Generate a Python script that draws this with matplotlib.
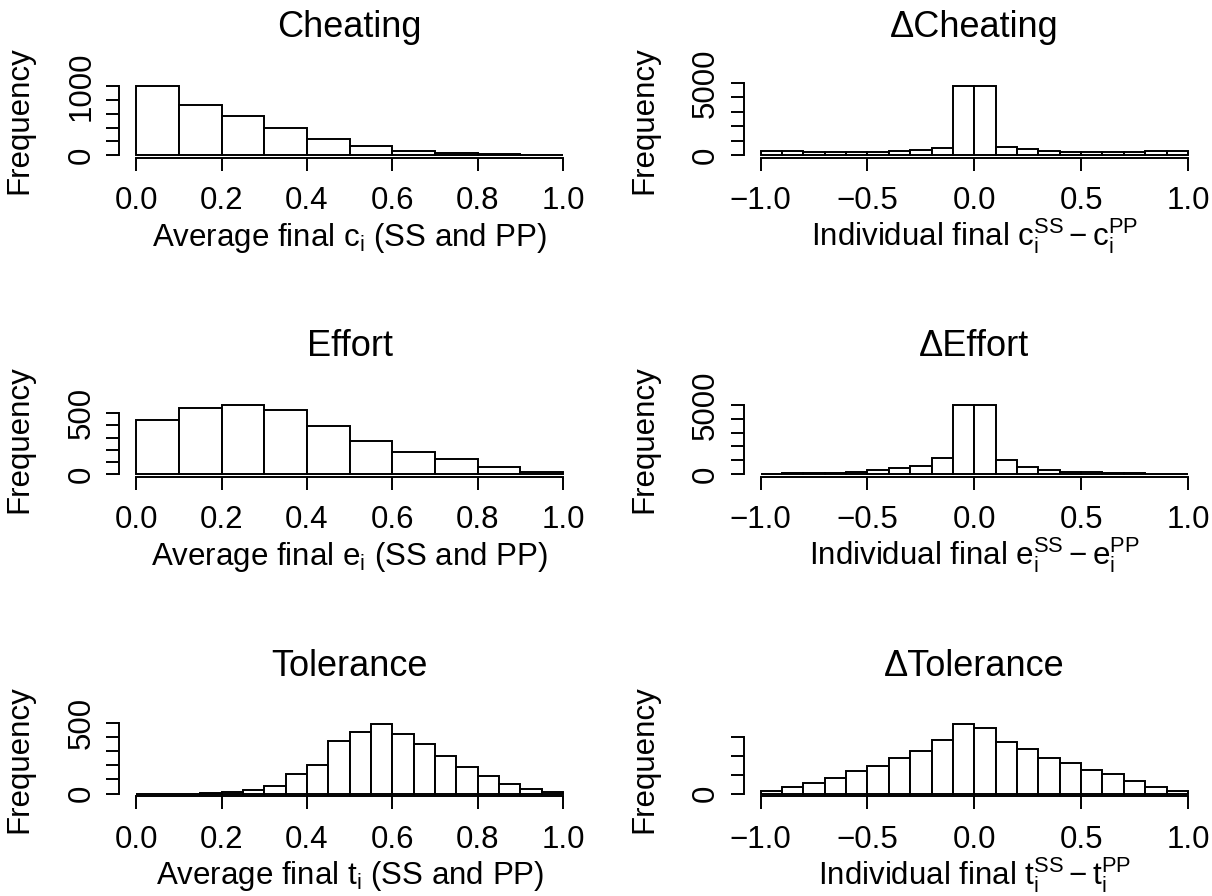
import numpy as np
import matplotlib
matplotlib.use("Agg")
import matplotlib.pyplot as plt

plt.rcParams['font.family'] = ['Liberation Sans', 'DejaVu Sans']
plt.rcParams['mathtext.fontset'] = 'custom'
plt.rcParams['mathtext.rm'] = 'Liberation Sans'
plt.rcParams['mathtext.it'] = 'Liberation Sans:italic'

## histogram data (counts per bin)
avg_edges = [0.0, 0.1, 0.2, 0.3, 0.4, 0.5, 0.6, 0.7, 0.8, 0.9, 1.0]
tol_edges = [0.0, 0.05, 0.1, 0.15, 0.2, 0.25, 0.3, 0.35, 0.4, 0.45, 0.5,
             0.55, 0.6, 0.65, 0.7, 0.75, 0.8, 0.85, 0.9, 0.95, 1.0]
diff_edges = [-1.0, -0.9, -0.8, -0.7, -0.6, -0.5, -0.4, -0.3, -0.2, -0.1, 0.0,
              0.1, 0.2, 0.3, 0.4, 0.5, 0.6, 0.7, 0.8, 0.9, 1.0]

cheat_counts = [1010, 729, 565, 396, 237, 135, 63, 24, 10, 5]
dcheat_counts = [300, 276, 230, 207, 207, 230, 253, 345, 500, 4816,
                 4816, 576, 415, 300, 230, 230, 230, 230, 250, 280]
effort_counts = [446, 541, 571, 527, 397, 274, 185, 120, 60, 19]
deffort_counts = [24, 48, 72, 97, 145, 314, 410, 604, 1160, 5024,
                  5024, 1014, 483, 266, 145, 121, 72, 48, 24, 24]
tol_counts = [0, 0, 0, 5, 12, 23, 53, 140, 205, 372,
              437, 491, 419, 353, 267, 186, 123, 65, 30, 9]
dtol_counts = [61, 175, 289, 421, 596, 746, 956, 1140, 1430, 1851,
               1754, 1368, 1175, 939, 807, 640, 517, 325, 175, 70]

avg_xticks = [0.0, 0.2, 0.4, 0.6, 0.8, 1.0]
avg_xlabels = ['0.0', '0.2', '0.4', '0.6', '0.8', '1.0']
diff_xticks = [-1.0, -0.5, 0.0, 0.5, 1.0]
diff_xlabels = ['\u22121.0', '\u22120.5', '0.0', '0.5', '1.0']

titles = ['Cheating', '\u0394Cheating', 'Effort', '\u0394Effort', 'Tolerance', '\u0394Tolerance']
xlabs = [r'Average final $\mathregular{c_i}$ (SS and PP)',
         r'Individual final $\mathregular{c_i^{SS} - c_i^{PP}}$',
         r'Average final $\mathregular{e_i}$ (SS and PP)',
         r'Individual final $\mathregular{e_i^{SS} - e_i^{PP}}$',
         r'Average final $\mathregular{t_i}$ (SS and PP)',
         r'Individual final $\mathregular{t_i^{SS} - t_i^{PP}}$']

W, H = 1212, 896
fig = plt.figure(figsize=(W / 100, H / 100), dpi=100)

# plot regions in pixels
col_x = [(119.3, 580.0), (743.5, 1205.0)]
row_y = [(82.8, 157.8), (401.8, 476.8), (721.3, 796.3)]

FS = 22.5
LW = 1.4


def add_panel(col, row):
    x0, x1 = col_x[col]
    y0, y1 = row_y[row]
    return fig.add_axes([x0 / W, 1 - y1 / H, (x1 - x0) / W, (y1 - y0) / H])


def draw_hist(ax, edges, counts, xticks, xlabels, yticks, ylabels, title, xlabel):
    edges = np.asarray(edges)
    counts = np.asarray(counts)
    ax.bar(edges[:-1], counts, width=np.diff(edges), align='edge',
           facecolor='white', edgecolor='black', linewidth=LW)
    span = edges[-1] - edges[0]
    ax.set_xlim(edges[0] - 0.04 * span, edges[-1] + 0.04 * span)
    top = counts.max()
    ax.set_ylim(-0.04 * top, 1.04 * top)

    for s in ['top', 'right']:
        ax.spines[s].set_visible(False)
    ax.spines['left'].set_bounds(yticks[0], yticks[-1])
    ax.spines['bottom'].set_bounds(xticks[0], xticks[-1])
    ax.spines['left'].set_linewidth(LW)
    ax.spines['bottom'].set_linewidth(LW)

    ax.set_xticks(xticks)
    ax.set_xticklabels(xlabels, fontsize=FS)
    ax.set_yticks(yticks)
    ax.set_yticklabels(ylabels, fontsize=FS, rotation=90, va='center')
    ax.tick_params(axis='both', length=9.7, width=LW, direction='out')
    ax.tick_params(axis='x', pad=10.7)
    ax.tick_params(axis='y', pad=6.6)

    ax.annotate(title, xy=(0.5, 1), xycoords='axes fraction', xytext=(0, 32.8),
                textcoords='offset points', ha='center', va='baseline', fontsize=26)
    ax.annotate(xlabel, xy=(0.5, 0), xycoords='axes fraction', xytext=(0, -63.3),
                textcoords='offset points', ha='center', va='baseline', fontsize=FS)
    ax.annotate('Frequency', xy=(0, 0.5), xycoords='axes fraction', xytext=(-65.9, 0),
                textcoords='offset points', ha='center', va='baseline', fontsize=FS,
                rotation=90, rotation_mode='anchor')


def lab(ticks, shown):
    return [str(t) if t in shown else '' for t in ticks]


yt = [0, 200, 400, 600, 800, 1000]
draw_hist(add_panel(0, 0), avg_edges, cheat_counts, avg_xticks, avg_xlabels,
          yt, lab(yt, [0, 1000]), titles[0], xlabs[0])

yt = [0, 1000, 2000, 3000, 4000, 5000]
draw_hist(add_panel(1, 0), diff_edges, dcheat_counts, diff_xticks, diff_xlabels,
          yt, lab(yt, [0, 5000]), titles[1], xlabs[1])

yt = [0, 100, 200, 300, 400, 500]
draw_hist(add_panel(0, 1), avg_edges, effort_counts, avg_xticks, avg_xlabels,
          yt, lab(yt, [0, 500]), titles[2], xlabs[2])

yt = [0, 1000, 2000, 3000, 4000, 5000]
draw_hist(add_panel(1, 1), diff_edges, deffort_counts, diff_xticks, diff_xlabels,
          yt, lab(yt, [0, 5000]), titles[3], xlabs[3])

yt = [0, 100, 200, 300, 400, 500]
draw_hist(add_panel(0, 2), tol_edges, tol_counts, avg_xticks, avg_xlabels,
          yt, lab(yt, [0, 500]), titles[4], xlabs[4])

yt = [0, 500, 1000, 1500]
draw_hist(add_panel(1, 2), diff_edges, dtol_counts, diff_xticks, diff_xlabels,
          yt, lab(yt, [0]), titles[5], xlabs[5])

fig.savefig('out.png', dpi=100)
